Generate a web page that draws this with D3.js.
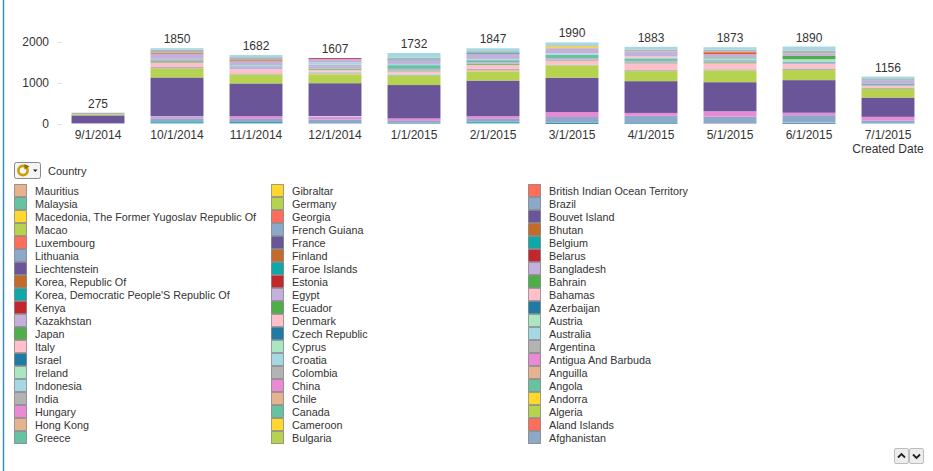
<!DOCTYPE html>
<html>
<head>
<meta charset="utf-8">
<script src="https://cdn.jsdelivr.net/npm/d3@7"></script>
<style>
  html, body { margin: 0; padding: 0; background: #fff; }
  svg { display: block; font-family: "Liberation Sans", Arial, sans-serif; }
</style>
</head>
<body>
<svg id="chart" width="933" height="471"></svg>
<script>
// ---------------- data ----------------
const dates = ["9/1/2014", "10/1/2014", "11/1/2014", "12/1/2014", "1/1/2015", "2/1/2015",
               "3/1/2015", "4/1/2015", "5/1/2015", "6/1/2015", "7/1/2015"];

// all countries in stacking order (bottom -> top); the legend is scrolled so only the first 60 show
const countries = [
  "Afghanistan", "Aland Islands", "Algeria", "Andorra", "Angola", "Anguilla", "Antigua And Barbuda",
  "Argentina", "Australia", "Austria", "Azerbaijan", "Bahamas", "Bahrain", "Bangladesh", "Belarus",
  "Belgium", "Bhutan", "Bouvet Island", "Brazil", "British Indian Ocean Territory", "Bulgaria",
  "Cameroon", "Canada", "Chile", "China", "Colombia", "Croatia", "Cyprus", "Czech Republic",
  "Denmark", "Ecuador", "Egypt", "Estonia", "Faroe Islands", "Finland", "France", "French Guiana",
  "Georgia", "Germany", "Gibraltar", "Greece", "Hong Kong", "Hungary", "India", "Indonesia",
  "Ireland", "Israel", "Italy", "Japan", "Kazakhstan", "Kenya", "Korea, Democratic People'S Republic Of",
  "Korea, Republic Of", "Liechtenstein", "Lithuania", "Luxembourg", "Macao",
  "Macedonia, The Former Yugoslav Republic Of", "Malaysia", "Mauritius",
  "Mexico", "Morocco", "Netherlands", "New Zealand", "Nigeria", "Norway", "Pakistan", "Philippines",
  "Poland", "Portugal", "Russian Federation", "Singapore", "South Africa", "Spain", "Sweden",
  "Switzerland", "Thailand", "Turkey", "United Arab Emirates", "United Kingdom", "United States"
];
const legendStart = 0;
const legendCount = 60;

// record counts per country per month (countries not listed are 0)
const series = [
  ["Australia",          [  0,  30,  30,  15,  15,  25,   0,  10,   0,   0,  25]],
  ["Azerbaijan",         [  0,  15,  20,   0,  20,  15,  20,  15,   0,  20,   0]],
  ["Bangladesh",         [  0,   0,   0,   0,   0,   0,   0,   0,  20,  20,   0]],
  ["Belgium",            [  0,  20,   0,   0,   0,  15,  10,   0,   0,   0,   0]],
  ["Brazil",             [ 15,  70,  75,  95,  40,  70, 140, 175, 160, 175,  60]],
  ["China",              [ 10,  35,  65,  70,  60,  65, 120,  70, 130,  60,  90]],
  ["Croatia",            [  0,  20,   0,  15,   0,   0,   0,   0,   0,   0,   0]],
  ["France",             [185, 945, 800, 800, 815, 870, 840, 775, 710, 795, 470]],
  ["Germany",            [ 25, 215, 215, 215, 225, 220, 300, 245, 285, 245, 210]],
  ["Hong Kong",          [  0,   0,   0,  20,   0,  30,   0,   0,   0,   0,   0]],
  ["India",              [ 40,  40,  30,  30,  30,  35,  20,  25,  30,  40,  26]],
  ["Ireland",            [  0,   0,   0,  20,  20,   0,   0,   0,   0,   0,   0]],
  ["Italy",              [  0, 110, 100,  45,  60, 100, 100, 165, 145, 105,  45]],
  ["Japan",              [  0,  30,   0,  25,  20,  25,  20,  20,  25,   0,   0]],
  ["Kazakhstan",         [  0,  50,  60,  60,  40,  30,  40,  40,  40,  30,  25]],
  ["Malaysia",           [  0,  15,  15,  20,  90,  55,  80,  60,  25,  25,  40]],
  ["Mexico",             [  0,  10,   0,  17,   0,  12,   0,   0,   0,   0,   0]],
  ["Netherlands",        [  0,   0,  30,  50,  30,  20,  30,  28,  33,  20,   0]],
  ["New Zealand",        [  0,   0,   0,   0,   0,   0,   0,   0,   0,  45,   0]],
  ["Norway",             [  0,   0,   0,   0,   0,   0,   0,  30,   0,   0,   0]],
  ["Pakistan",           [  0,   0,   0,   0,   0,   0,   0,   0,  20,  80,   0]],
  ["Philippines",        [  0, 110,  90,  90,  90, 120, 130, 110,  80,  55,  80]],
  ["Poland",             [  0,   0,   0,  20,   0,   0,   0,   0,   0,   0,   0]],
  ["Portugal",           [  0,   0,   0,   0,  20,  20,   0,   0,   0,   0,   0]],
  ["Russian Federation", [  0,  25,  25,   0,   0,   0,   0,   0,  30,   0,   0]],
  ["Spain",              [  0,   0,   0,   0,   0,   0,   0,   0,  30,   0,   0]],
  ["Switzerland",        [  0,   0,   0,   0,   0,   0,  40,   0,   0,   0,   0]],
  ["United Kingdom",     [  0,  70,  75,   0,  47,  50,  30,  50,  50,  80,  25]],
  ["United States",      [  0,  40,  52,   0, 110,  70,  70,  65,  60,  95,  60]]
];

const yTicks = [0, 1000, 2000];
const palette = ["#8DA9CA", "#FF6E5A", "#B5D34F", "#FFD72E", "#66C2A0", "#E5B38F",
                 "#E88AD4", "#B3B3B3", "#A6D8E4", "#ABE5C1", "#1F7BA4", "#FFBFCB",
                 "#4DAE4A", "#C3B1DB", "#C1272D", "#10A7A8", "#C26B2B", "#695598"];
const axisTitle = "Created Date";
const legendTitle = "Country";

// ---------------- build ----------------
const valueOf = new Map(series);
const rows = dates.map((d, i) => {
  const r = { date: d };
  countries.forEach(c => { r[c] = valueOf.has(c) ? valueOf.get(c)[i] : 0; });
  return r;
});
const totals = rows.map(r => d3.sum(countries, c => r[c]));

const svg = d3.select("#chart");
const color = d3.scaleOrdinal().domain(countries).range(palette);

const x = d3.scaleBand().domain(dates).range([58.5, 927.5]).paddingInner(0.33).paddingOuter(0.165);
const y = d3.scaleLinear().domain([0, 2000]).range([124, 42]);

// left frame line
svg.append("line").attr("x1", 3.5).attr("x2", 3.5).attr("y1", 0).attr("y2", 471)
  .attr("stroke", "#3C8FB5").attr("stroke-width", 1.5);

// y axis
const yAxis = d3.axisLeft(y).tickValues(yTicks).tickSize(5).tickPadding(8).tickFormat(d3.format("d"));
const gy = svg.append("g").attr("transform", "translate(62,0)").call(yAxis);
gy.select(".domain").remove();
gy.selectAll(".tick line").attr("stroke", "#E3E3E3");
gy.selectAll(".tick text").attr("fill", "#333").attr("font-size", 12)
  .attr("font-family", "'Liberation Sans', Arial, sans-serif");

// stacked bars
const stacked = d3.stack().keys(countries)(rows);
svg.append("g").selectAll("g").data(stacked).join("g")
  .attr("fill", s => color(s.key))
  .selectAll("rect").data(s => s.filter(p => p[1] > p[0])).join("rect")
  .attr("x", p => x(p.data.date))
  .attr("width", x.bandwidth())
  .attr("y", p => y(p[1]))
  .attr("height", p => y(p[0]) - y(p[1]));

// total labels
svg.append("g").selectAll("text").data(dates).join("text")
  .attr("x", d => x(d) + x.bandwidth() / 2)
  .attr("y", (d, i) => y(totals[i]) - 5)
  .attr("text-anchor", "middle").attr("font-size", 12).attr("fill", "#333")
  .text((d, i) => totals[i]);

// x axis
const xAxis = d3.axisBottom(x).tickSize(0).tickPadding(0);
const gx = svg.append("g").attr("transform", "translate(0,130)").call(xAxis);
gx.select(".domain").remove();
gx.selectAll(".tick text").attr("fill", "#333").attr("font-size", 12)
  .attr("dy", "0.75em").attr("font-family", "'Liberation Sans', Arial, sans-serif");
svg.append("text").attr("x", x(dates[dates.length - 1]) + x.bandwidth() / 2).attr("y", 153)
  .attr("text-anchor", "middle").attr("font-size", 12).attr("fill", "#333").text(axisTitle);

// legend header with cycle button
const btn = svg.append("g").attr("transform", "translate(14.5,162.5)");
btn.append("rect").attr("width", 26).attr("height", 16).attr("rx", 2)
  .attr("fill", "#F4F4F4").attr("stroke", "#8A8A8A");
btn.append("circle").attr("cx", 8.5).attr("cy", 8).attr("r", 4.6)
  .attr("fill", "none").attr("stroke", "#C9A000").attr("stroke-width", 2.6);
btn.append("path").attr("d", "M10,1.5 L15,4 L10,7 Z").attr("fill", "#8C6A00");
btn.append("path").attr("d", "M18.5,7 L23,7 L20.75,9.5 Z").attr("fill", "#222");
svg.append("text").attr("x", 48).attr("y", 175).attr("font-size", 11).attr("fill", "#333").text(legendTitle);

// legend items (reverse order, 3 columns of 20)
const legendItems = countries.slice(legendStart, legendStart + legendCount).reverse();
const colX = [14.5, 271.5, 528.5];
const textX = [35, 292, 549];
const lg = svg.append("g").selectAll("g").data(legendItems).join("g")
  .attr("transform", (d, i) => `translate(${colX[Math.floor(i / 20)]},${184.5 + (i % 20) * 13})`);
lg.append("rect").attr("width", 12).attr("height", 12)
  .attr("fill", d => color(d)).attr("stroke", "#666").attr("stroke-opacity", 0.6);
lg.append("text").attr("x", (d, i) => textX[Math.floor(i / 20)] - colX[Math.floor(i / 20)])
  .attr("y", 10.5).attr("font-size", 10.8).attr("fill", "#333").text(d => d);

// scroll buttons
const arrows = svg.append("g").attr("transform", "translate(894.5,448.5)");
[0, 1].forEach(k => {
  const b = arrows.append("g").attr("transform", `translate(${k * 15},0)`);
  b.append("rect").attr("width", 14).attr("height", 15).attr("rx", 1.5)
    .attr("fill", "#EDEDED").attr("stroke", "#BDBDBD");
  b.append("path").attr("d", k === 0 ? "M3.5,9 L7,5.5 L10.5,9" : "M3.5,6 L7,9.5 L10.5,6")
    .attr("fill", "none").attr("stroke", "#222").attr("stroke-width", 1.8);
});
</script>
</body>
</html>
